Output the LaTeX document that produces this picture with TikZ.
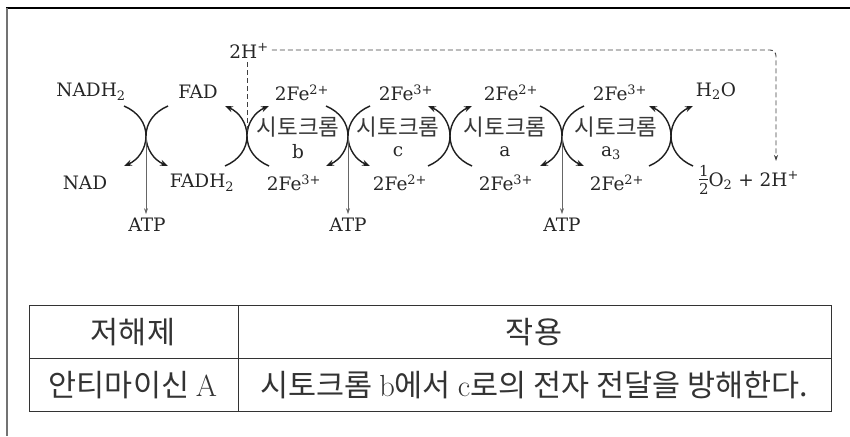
\documentclass[tikz,border=0pt]{standalone}
\usepackage{fontspec}
\newfontfamily\kr{Noto Sans CJK KR}
\newfontfamily\dv{DejaVu Serif}
\usetikzlibrary{arrows.meta}
\newcommand\sbs[1]{\textsubscript{#1}}
\newcommand\sps[1]{\textsuperscript{#1}}
\newcommand\halfstack{\raisebox{-8pt}{\fontsize{15}{15}\selectfont\shortstack{1\\[0pt]\rule{9pt}{0.7pt}\\[0pt]2}}}
\begin{document}
\begin{tikzpicture}[x=1pt,y=-1pt,
  lbl/.style={font=\dv\fontsize{18.5}{22}\selectfont, inner sep=0pt, text=black!85},
  krl/.style={font=\kr\fontsize{22.5}{26}\selectfont, inner sep=0pt, text=black!78},
  arcline/.style={line width=1.4pt, draw=black!88, -{Stealth[length=8pt,width=6pt]}},
  atpline/.style={line width=0.6pt, draw=black!60, -{Stealth[length=6pt,width=4pt]}, shorten >=4pt},
  dashline/.style={line width=0.9pt, draw=black!75, dash pattern=on 5pt off 3pt},
  tabtxt/.style={font=\kr\fontsize{30.5}{34}\selectfont, inner sep=0pt, text=black!80},
  tabline/.style={line width=0.9pt, draw=black!80},
]
\useasboundingbox (0,0) rectangle (850,436);
% frame
\draw[line width=1.4pt, black] (6,8) -- (850,8);
\draw[line width=1.4pt, black!55] (7,8) -- (7,436);

% crossings
\foreach \i/\cx in {1/146, 2/247, 3/348, 4/450, 5/562, 6/671} {
  \coordinate (x\i) at (\cx,136);
  \coordinate (tl\i) at (\cx-22,106);
  \coordinate (bl\i) at (\cx-22,166);
  \coordinate (tr\i) at (\cx+22,106);
  \coordinate (br\i) at (\cx+22,166);
}
\foreach \i in {1,3,5} {
  \draw[arcline] (tl\i) .. controls +(14,6) and +(0,-13) .. (x\i) .. controls +(0,13) and +(14,-6) .. (bl\i);
  \draw[arcline] (tr\i) .. controls +(-14,6) and +(0,-13) .. (x\i) .. controls +(0,13) and +(-14,-6) .. (br\i);
}
\foreach \i in {2,4,6} {
  \draw[arcline] (bl\i) .. controls +(14,-6) and +(0,13) .. (x\i) .. controls +(0,-13) and +(14,6) .. (tl\i);
  \draw[arcline] (br\i) .. controls +(-14,-6) and +(0,13) .. (x\i) .. controls +(0,-13) and +(-14,6) .. (tr\i);
}

% labels
\node[lbl] (nadh) at (91,92) {NADH\sbs{2}};
\node[lbl] (fad) at (198,92) {FAD};
\node[lbl] (nad) at (85,183) {NAD};
\node[lbl] (fadh) at (202,183) {FADH\sbs{2}};

\node[lbl] (bt) at (302,93) {2Fe\sps{2+}};
\node[lbl] (bb) at (294,183) {2Fe\sps{3+}};
\node[krl] (bk) at (298,127) {시토크롬};
\node[lbl] (bn) at (298,152) {b};

\node[lbl] (ct) at (406,93) {2Fe\sps{3+}};
\node[lbl] (cb) at (400,183) {2Fe\sps{2+}};
\node[krl] (ck) at (398,127) {시토크롬};
\node[lbl] (cn) at (398,152) {c};

\node[lbl] (at) at (511,93) {2Fe\sps{2+}};
\node[lbl] (ab) at (506,183) {2Fe\sps{3+}};
\node[krl] (ak) at (505,127) {시토크롬};
\node[lbl] (an) at (505,152) {a};

\node[lbl] (a3t) at (620,93) {2Fe\sps{3+}};
\node[lbl] (a3b) at (617,183) {2Fe\sps{2+}};
\node[krl] (a3k) at (616,127) {시토크롬};
\node[lbl] (a3n) at (611,153) {a\sbs{3}};

\node[lbl] (h2o) at (716,91) {H\sbs{2}O};
\node[lbl, anchor=base] (o2) at (749,186) {\halfstack O\sbs{2} + 2H\sps{+}};

\node[lbl] (atp1) at (147,225) {ATP};
\node[lbl] (atp2) at (348,225) {ATP};
\node[lbl] (atp3) at (562,225) {ATP};
\draw[atpline] (x1) -- (atp1.north -| x1);
\draw[atpline] (x3) -- (atp2.north -| x3);
\draw[atpline] (x5) -- (atp3.north -| x5);

% proton path
\node[lbl] (h2top) at (249,51) {2H\sps{+}};
\coordinate (dc) at (776,50);
\coordinate (dend) at (776,161);
\draw[dashline, rounded corners=6pt, -{Stealth[length=6pt,width=4pt]}] ([xshift=3pt]h2top.east |- dc) -- (dc) -- (dend);
\draw[dashline, shorten <=4pt] (h2top.south -| x2) -- (x2);

% table
\draw[tabline] (29,305) rectangle (831,411);
\draw[tabline] (29,358) -- (831,358);
\draw[tabline] (238,305) -- (238,411);
\node[tabtxt] (th1) at (133,332) {저해제};
\node[tabtxt] (th2) at (534,332) {작용};
\node[tabtxt] (td1) at (133,385) {안티마이신 {\rmfamily A}};
\node[tabtxt] (td2) at (534,385) {시토크롬 {\rmfamily b}에서 {\rmfamily c}로의 전자 전달을 방해한다.};
\end{tikzpicture}
\end{document}
